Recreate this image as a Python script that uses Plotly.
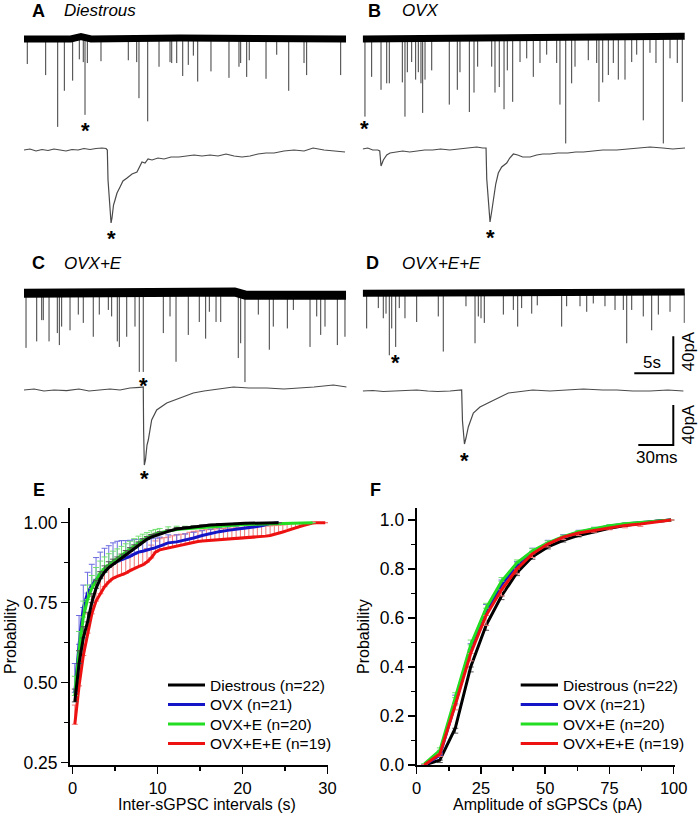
import plotly.graph_objects as go

W, H = 700, 816

# ======================= DATA =======================
# Overview traces (A-D): event times (s) and peak amplitudes (pA, downward)
A_spike_t = [0.42, 2.78, 4.32, 5.17, 6.24, 7.09, 7.60, 7.82, 8.12, 9.87, 13.37, 14.45, 14.74, 15.86, 17.31,
             18.72, 18.94, 19.58, 20.35, 21.06, 21.71, 22.27, 23.97, 26.28, 27.56, 27.78, 28.55, 28.88, 31.03,
             32.40, 33.94, 35.90, 36.24, 40.60]
A_spike_amp = [27, 39, 95, 56, 45, 22, 25, 82, 26, 24, 23, 25, 64, 89, 30, 25, 26, 26, 40, 28, 18, 46, 35,
               42, 30, 26, 41, 23, 43, 17, 56, 26, 39, 39]
A_star = 7

B_spike_t = [0.29, 1.15, 2.35, 3.08, 3.41, 5.08, 5.42, 5.72, 6.28, 6.79, 7.13, 7.47, 7.69, 7.99, 8.85, 11.10,
             12.13, 12.47, 13.67, 14.27, 14.74, 16.54, 16.96, 17.51, 18.12, 18.54, 19.23, 20.17, 21.03, 21.87,
             22.73, 23.59, 24.87, 25.29, 26.03, 26.79, 27.22, 28.92, 30.00, 30.29, 30.77, 31.49, 32.13, 32.77,
             33.63, 34.49, 35.13, 35.97, 36.83, 37.60, 38.54, 39.40, 40.33, 40.97]
B_spike_amp = [85, 42, 56, 49, 49, 48, 85, 37, 26, 45, 37, 49, 81, 45, 35, 72, 56, 37, 80, 59, 31, 31, 59,
               53, 77, 35, 69, 26, 22, 42, 27, 18, 27, 72, 114, 49, 31, 24, 27, 69, 48, 40, 27, 45, 45, 26,
               18, 89, 16, 27, 114, 22, 27, 69]
B_star = 0

C_spike_t = [0.26, 1.63, 2.27, 2.47, 3.21, 4.27, 4.53, 4.83, 5.90, 6.96, 7.60, 8.88, 9.65, 10.81, 11.24,
             11.96, 12.22, 13.17, 14.23, 14.78, 15.29, 17.86, 18.72, 19.49, 21.06, 22.47, 23.29, 23.76, 24.62,
             25.22, 27.47, 27.78, 28.33, 30.04, 31.45, 31.96, 33.76, 34.53, 36.67, 37.53, 38.04, 38.59, 40.17,
             41.15]
C_spike_amp = [59, 52, 29, 29, 52, 43, 56, 36, 40, 23, 32, 47, 23, 18, 25, 52, 58, 47, 36, 85, 85, 43, 25,
               74, 45, 31, 49, 20, 31, 31, 70, 54, 96, 23, 61, 36, 38, 18, 58, 25, 45, 36, 56, 47]
C_star = 20

D_spike_t = [0.51, 2.00, 2.64, 2.99, 3.41, 3.72, 4.23, 4.69, 5.42, 6.92, 9.69, 10.33, 13.24, 14.40, 14.82,
             15.17, 15.59, 18.03, 19.31, 19.87, 20.38, 21.67, 22.38, 25.51, 26.15, 27.86, 28.72, 29.56, 31.06,
             32.35, 33.41, 33.85, 34.49, 35.97, 37.05, 37.90, 39.40, 41.23]
D_spike_amp = [38, 16, 27, 22, 67, 38, 58, 16, 27, 31, 25, 63, 14, 54, 25, 27, 32, 23, 18, 36, 16, 22, 13,
               36, 14, 14, 20, 11, 14, 18, 18, 54, 18, 25, 40, 23, 20, 32]
D_star = 6

# baseline drift of the overview traces (s, pA)
A_base_t = [0, 6.0, 7.3, 8.6, 20, 33, 34, 41.3]
A_base_v = [0, 0, 2.5, 0, 1, 0, 1, 0]
B_base_t = [0, 10, 20, 30, 35, 41.3]
B_base_v = [-1, 0, 1, 1, 2.5, 2]
C_base_t = [0, 10, 20, 27.0, 28.4, 41.3]
C_base_v = [0, 1, 1.5, 1.5, -2, -2]
D_base_t = [0, 10, 25.3, 25.9, 41.3]
D_base_v = [0, 0, 0, 1.5, 1.5]

# Expanded single events (ms, pA)
A_evt_t = [0, 5.1, 10.3, 15.4, 20.6, 25.7, 30.9, 36.0, 41.1, 46.3, 51.4, 56.6, 61.7, 66.8, 70.3, 71.4, 72.0,
           73.7, 74.6, 75.4, 76.7, 78.0, 79.7, 82.3, 84.8, 88.3, 92.6, 96.8, 99.4, 101.1, 103.7, 106.3, 109.7,
           114.8, 120.0, 126.0, 132.8, 139.7, 145.7, 152.5, 159.4, 166.3, 173.1, 180.0, 186.8, 193.7, 200.5,
           207.4, 214.3, 222.8, 231.4, 240.0, 247.7, 257.1, 265.7, 275.1]
A_evt_i = [0, 1, -1, 0.5, -0.5, 1, 0, -1, 0.5, 0, 1.5, 0.5, 1.5, 2, 1.5, 0, -30, -65, -73, -68, -55, -50, -43,
           -37, -31, -28, -24, -22, -16, -12, -13, -9, -10, -8, -9, -7, -7, -6, -5, -6, -5, -6, -4, -6, -7, -6,
           -4, -3, -3, -1, 0, -1, 2, 0, -1, -2]
A_evt_peak = 18

B_evt_t = [0, 4.3, 8.6, 12.9, 14.6, 15.7, 17.7, 20.6, 23.4, 28.3, 34.3, 40.3, 46.3, 53.1, 60.0, 66.8, 74.6,
           81.4, 85.7, 91.7, 97.7, 102.8, 105.7, 106.3, 108.0, 109.1, 110.6, 111.9, 114.0, 116.2, 119.1, 123.4,
           126.0, 129.1, 132.8, 137.1, 143.4, 149.1, 154.3, 160.5, 167.1, 175.7, 182.5, 189.1, 197.1, 205.7,
           217.7, 227.1, 235.7, 246.2, 257.1, 265.7, 276.2]
B_evt_i = [0, 1, -1, -1, -2, -17, -11, -6, -4, -3, -2, -3, -2, -1, -1, 0, -1, 0, 0, 1, 2, 1, 1, -30, -62, -73,
           -62, -51, -35, -24, -18, -14, -9, -5, -6, -8, -8, -6, -5, -5, -4, -4, -3, -3, -2, -1, -1, 0, 1, 2,
           1, 0, 1]
B_evt_peak = 25

C_evt_t = [0, 8.6, 17.1, 25.7, 36.6, 47.1, 55.7, 65.1, 73.7, 82.3, 90.8, 99.4, 102.2, 102.5, 103.1, 104.1,
           105.4, 106.5, 109.4, 113.7, 122.3, 133.7, 145.1, 154.3, 165.1, 179.4, 192.8, 208.0, 222.8, 236.5,
           248.5, 265.1, 276.5]
C_evt_i = [0, 1, -1, 0, -0.7, 1, -1, 0, 1, 0, 2, 2.7, 3, -40, -75, -70, -55, -50, -30, -20, -13, -8, -3, -1,
           1, 3, 2, 2, 1, 2, 3, 5, 3]
C_evt_peak = 14

D_evt_t = [0, 8.6, 17.7, 25.7, 34.3, 46.3, 55.7, 64.3, 74.8, 83.4, 84.8, 85.5, 87.2, 88.5, 90.5, 94.8, 100.5,
           109.1, 117.7, 124.8, 132.0, 145.7, 160.5, 175.7, 189.1, 205.7, 217.7, 231.4, 246.2, 261.4, 274.8]
D_evt_i = [0, 0.5, -0.5, 0, 1, 1, 0, -0.5, 0, 1, 1, -30, -53, -47, -36, -22, -16, -11, -6, -2, -1, 1, 0, 1,
           2, 1, 1, 0, 0, 1, 0]
D_evt_peak = 12

SCALE_T_S = 5      # s
SCALE_T_MS = 30    # ms
SCALE_PA = 40      # pA

# Panel E: cumulative probability of inter-event intervals (s)
groups = ["Diestrous (n=22)", "OVX (n=21)", "OVX+E (n=20)", "OVX+E+E (n=19)"]

E_x_short = [0.25, 0.75, 1.25, 1.75, 2.25, 2.75, 3.25, 3.75, 4.25, 4.75, 5.25, 5.75, 6.25, 6.75, 7.25, 7.75,
             8.25, 8.75, 9.25, 9.75, 10.25, 11.25, 12.25, 13.25, 14.25, 15.25, 16.25, 17.25, 18.25, 19.25,
             20.25, 21.25, 22.25, 23.25, 24.25]
E_x_green = [0.25, 0.75, 1.25, 1.75, 2.25, 2.75, 3.25, 3.75, 4.25, 4.75, 5.25, 5.75, 6.25, 6.75, 7.25, 7.75,
             8.25, 8.75, 9.25, 9.75, 10.25, 11.25, 12.25, 13.25, 14.25, 15.25, 16.25, 17.25, 18.25, 19.25,
             20.25, 21.25, 22.25, 23.25, 24.25, 25.25, 26.25, 27.25, 28.25]
E_x_red = [0.25, 0.75, 1.25, 1.75, 2.25, 2.75, 3.25, 3.75, 4.25, 4.75, 5.25, 5.75, 6.25, 6.75, 7.25, 7.75,
           8.25, 8.75, 9.25, 9.75, 10.25, 10.75, 11.25, 11.75, 12.25, 12.75, 13.25, 13.75, 14.25, 14.75,
           15.25, 15.75, 16.25, 16.75, 17.25, 17.75, 18.25, 18.75, 19.25, 19.75, 20.25, 20.75, 21.25, 21.75,
           22.25, 22.75, 23.25, 23.75, 24.25, 24.75, 25.25, 25.75, 26.25, 26.75, 27.25, 27.75, 28.25, 28.75,
           29.25, 29.75]

E_black = [0.44, 0.56, 0.64, 0.69, 0.75, 0.795, 0.825, 0.845, 0.86, 0.87, 0.878, 0.888, 0.9, 0.91, 0.92, 0.93,
           0.94, 0.948, 0.955, 0.96, 0.965, 0.973, 0.98, 0.984, 0.987, 0.99, 0.993, 0.995, 0.996, 0.997, 0.998,
           0.999, 0.999, 1.0, 1.0]
E_black_err = [0.04, 0.04, 0.035, 0.03, 0.028, 0.025, 0.022, 0.02, 0.018, 0.016, 0.015, 0.014, 0.013, 0.012,
               0.011, 0.01, 0.01, 0.009, 0.008, 0.007, 0.007, 0.006, 0.005, 0.004, 0.003, 0.003, 0.002, 0.002,
               0.001, 0.001, 0.001, 0, 0, 0, 0]
E_blue = [0.47, 0.62, 0.735, 0.78, 0.805, 0.823, 0.838, 0.85, 0.862, 0.872, 0.879, 0.884, 0.889, 0.895, 0.902,
          0.908, 0.911, 0.914, 0.917, 0.922, 0.927, 0.937, 0.94, 0.945, 0.952, 0.96, 0.967, 0.972, 0.976, 0.979,
          0.982, 0.986, 0.99, 0.997, 1.0]
E_blue_err = [0.09, 0.09, 0.07, 0.065, 0.065, 0.068, 0.07, 0.07, 0.066, 0.065, 0.063, 0.06, 0.055, 0.05,
              0.045, 0.04, 0.037, 0.035, 0.033, 0.03, 0.028, 0.025, 0.022, 0.02, 0.018, 0.015, 0.013, 0.012,
              0.011, 0.01, 0.01, 0.008, 0.005, 0.002, 0]
E_green = [0.46, 0.6, 0.705, 0.76, 0.795, 0.82, 0.842, 0.857, 0.869, 0.879, 0.888, 0.898, 0.908, 0.918, 0.928,
           0.938, 0.946, 0.953, 0.96, 0.965, 0.969, 0.975, 0.979, 0.981, 0.983, 0.985, 0.988, 0.99, 0.992,
           0.993, 0.994, 0.995, 0.996, 0.997, 0.998, 0.999, 0.999, 1.0, 1.0]
E_green_err = [0.06, 0.06, 0.05, 0.045, 0.04, 0.04, 0.038, 0.036, 0.034, 0.032, 0.03, 0.028, 0.026, 0.024,
               0.022, 0.02, 0.018, 0.016, 0.015, 0.014, 0.013, 0.012, 0.01, 0.008, 0.007, 0.006, 0.005, 0.004,
               0.003, 0.003, 0.002, 0.002, 0.001, 0.001, 0.001, 0, 0, 0, 0]
E_red = [0.37, 0.49, 0.585, 0.655, 0.715, 0.755, 0.778, 0.80, 0.815, 0.826, 0.832, 0.836, 0.842, 0.85, 0.857,
         0.863, 0.868, 0.877, 0.89, 0.908, 0.915, 0.918, 0.92, 0.925, 0.928, 0.93, 0.932, 0.937, 0.94, 0.941,
         0.943, 0.944, 0.945, 0.946, 0.946, 0.947, 0.948, 0.948, 0.949, 0.95, 0.951, 0.952, 0.953, 0.955, 0.957,
         0.958, 0.96, 0.963, 0.966, 0.971, 0.975, 0.98, 0.984, 0.988, 0.992, 0.996, 0.999, 1.0, 1.0, 1.0]
E_red_err = [0.06, 0.065, 0.065, 0.06, 0.055, 0.052, 0.05, 0.05, 0.05, 0.05, 0.05, 0.05, 0.048, 0.047, 0.046,
             0.045, 0.044, 0.042, 0.04, 0.035, 0.035, 0.035, 0.035, 0.034, 0.034, 0.034, 0.033, 0.033, 0.033,
             0.033, 0.034, 0.034, 0.034, 0.035, 0.035, 0.035, 0.035, 0.035, 0.035, 0.035, 0.035, 0.035, 0.035,
             0.034, 0.033, 0.032, 0.03, 0.028, 0.026, 0.022, 0.02, 0.017, 0.014, 0.011, 0.008, 0.004, 0.001, 0,
             0, 0]

# Panel F: cumulative probability of amplitudes (pA)
F_x = [3, 9, 15, 21, 27, 33, 39, 45, 51, 57, 63, 69, 75, 81, 87, 93, 99]
F_black = [0, 0.02, 0.15, 0.40, 0.57, 0.69, 0.785, 0.85, 0.89, 0.917, 0.937, 0.953, 0.966, 0.977, 0.987, 0.995, 1.0]
F_black_err = [0, 0.01, 0.02, 0.02, 0.02, 0.015, 0.012, 0.01, 0.008, 0.007, 0.006, 0.005, 0.004, 0.003, 0.002, 0.001, 0]
F_blue = [0, 0.04, 0.25, 0.47, 0.625, 0.735, 0.815, 0.87, 0.905, 0.93, 0.95, 0.964, 0.975, 0.984, 0.99, 0.996, 1.0]
F_blue_err = [0, 0.01, 0.035, 0.025, 0.03, 0.02, 0.015, 0.015, 0.012, 0.01, 0.008, 0.006, 0.005, 0.004, 0.003, 0.002, 0]
F_green = [0.005, 0.06, 0.275, 0.49, 0.64, 0.75, 0.825, 0.873, 0.907, 0.932, 0.952, 0.966, 0.977, 0.985, 0.99, 0.996, 1.0]
F_green_err = [0, 0.01, 0.02, 0.02, 0.02, 0.015, 0.012, 0.01, 0.008, 0.006, 0.005, 0.004, 0.003, 0.003, 0.002, 0.001, 0]
F_red = [0, 0.045, 0.245, 0.455, 0.61, 0.715, 0.80, 0.862, 0.902, 0.93, 0.947, 0.958, 0.968, 0.978, 0.984, 0.993, 1.0]
F_red_err = [0, 0.01, 0.02, 0.03, 0.04, 0.025, 0.02, 0.015, 0.012, 0.01, 0.01, 0.008, 0.008, 0.01, 0.01, 0.003, 0]

# ======================= LAYOUT HELPERS =======================
FONT = "Liberation Sans, Arial, sans-serif"
TOP_XSCALE, TOP_YSCALE = 7.8, 0.925     # px per s, px per pA
EVT_XSCALE, EVT_YSCALE = 1.167, 1.0     # px per ms, px per pA
TOP_XMAX, EVT_XMAX = 41.3, 276.5

fig = go.Figure()
layout = {}
annotations = []
shapes = []


def ax_name(n, kind):
    return kind if n == 1 else f"{kind}{n}"


def add_trace_axes(n, x0, base, top, bottom, xs, ys, xmax):
    layout[ax_name(n, "xaxis")] = dict(domain=[x0 / W, (x0 + xmax * xs) / W], range=[0, xmax],
                                       visible=False, anchor=ax_name(n, "y"), automargin=False)
    layout[ax_name(n, "yaxis")] = dict(domain=[1 - bottom / H, 1 - top / H],
                                       range=[-(bottom - base) / ys, (base - top) / ys],
                                       visible=False, anchor=ax_name(n, "x"), automargin=False)


def px(xp, yp):
    return xp / W, 1 - yp / H


def text(xp, yp, s, size=16, xanchor="center", bold=False, italic=False, angle=0):
    x, y = px(xp, yp)
    if bold:
        s = f"<b>{s}</b>"
    if italic:
        s = f"<i>{s}</i>"
    annotations.append(dict(x=x, y=y, xref="paper", yref="paper", text=s, showarrow=False,
                            xanchor=xanchor, yanchor="middle", textangle=angle, borderpad=0,
                            font=dict(family=FONT, size=size, color="black")))


def star(n, xv, yv, below_px):
    annotations.append(dict(x=xv, y=yv, xref=ax_name(n, "x"), yref=ax_name(n, "y"), text="<b>*</b>",
                            showarrow=False, xanchor="center", yanchor="top", yshift=-(below_px - 8),
                            borderpad=0, font=dict(family=FONT, size=22, color="black")))


# ---------------- overview traces ----------------
panels = [
    # n, x0, base, top, bottom, spike_t, spike_amp, base_t, base_v, width, star idx, star offset
    (1, 24.0, 39.0, 5, 150, A_spike_t, A_spike_amp, A_base_t, A_base_v, 7, A_star, 10),
    (2, 362.7, 38.0, 5, 150, B_spike_t, B_spike_amp, B_base_t, B_base_v, 7, B_star, 6),
    (3, 24.0, 293.3, 255, 395, C_spike_t, C_spike_amp, C_base_t, C_base_v, 9, C_star, 8),
    (4, 362.7, 293.3, 255, 395, D_spike_t, D_spike_amp, D_base_t, D_base_v, 7, D_star, 10),
]
for n, x0, base, top, bottom, st, sa, bt, bv, bw, si, so in panels:
    add_trace_axes(n, x0, base, top, bottom, TOP_XSCALE, TOP_YSCALE, TOP_XMAX)
    xs, ys = [], []
    for t, a in zip(st, sa):
        xs += [t, t, None]
        ys += [0, -a, None]
    fig.add_trace(go.Scatter(x=xs, y=ys, mode="lines", line=dict(color="#3c3c3c", width=1),
                             xaxis=ax_name(n, "x"), yaxis=ax_name(n, "y"), showlegend=False,
                             hoverinfo="skip"))
    fig.add_trace(go.Scatter(x=bt, y=bv, mode="lines", line=dict(color="black", width=bw),
                             xaxis=ax_name(n, "x"), yaxis=ax_name(n, "y"), showlegend=False,
                             hoverinfo="skip"))
    star(n, st[si], -sa[si], so)

# ---------------- single-event traces ----------------
events = [
    (5, 24.0, 150.0, 120, 240, A_evt_t, A_evt_i, A_evt_peak, 10),
    (6, 362.7, 149.0, 120, 240, B_evt_t, B_evt_i, B_evt_peak, 10),
    (7, 24.0, 390.0, 360, 480, C_evt_t, C_evt_i, C_evt_peak, 8),
    (8, 362.7, 391.0, 360, 480, D_evt_t, D_evt_i, D_evt_peak, 11),
]
for n, x0, base, top, bottom, et, ei, pk, so in events:
    add_trace_axes(n, x0, base, top, bottom, EVT_XSCALE, EVT_YSCALE, EVT_XMAX)
    fig.add_trace(go.Scatter(x=et, y=ei, mode="lines", line=dict(color="#4a4a4a", width=1.2),
                             xaxis=ax_name(n, "x"), yaxis=ax_name(n, "y"), showlegend=False,
                             hoverinfo="skip"))
    star(n, et[pk], ei[pk], so)

# ---------------- scale bars ----------------
c_t = (673.3 - 362.7) / TOP_XSCALE
c_y = -(373.3 - 293.3) / TOP_YSCALE
fig.add_trace(go.Scatter(x=[c_t - SCALE_T_S, c_t, c_t], y=[c_y, c_y, c_y + SCALE_PA], mode="lines",
                         line=dict(color="black", width=2), xaxis="x4", yaxis="y4", showlegend=False,
                         hoverinfo="skip"))
c_t2 = (673.3 - 362.7) / EVT_XSCALE
c_y2 = -(445.0 - 391.0) / EVT_YSCALE
fig.add_trace(go.Scatter(x=[c_t2 - SCALE_T_MS, c_t2, c_t2], y=[c_y2, c_y2, c_y2 + SCALE_PA], mode="lines",
                         line=dict(color="black", width=2), xaxis="x8", yaxis="y8", showlegend=False,
                         hoverinfo="skip"))
text(651.7, 362, f"{SCALE_T_S}s", size=17)
text(687.5, 352, f"{SCALE_PA}pA", size=17, angle=-90)
text(656.7, 457, f"{SCALE_T_MS}ms", size=17)
text(687.5, 425, f"{SCALE_PA}pA", size=17, angle=-90)

# ---------------- panel labels ----------------
text(38, 11, "A", size=18, bold=True)
text(63, 11, "Diestrous", size=17, xanchor="left", italic=True)
text(374, 11, "B", size=18, bold=True)
text(401, 11, "OVX", size=17, xanchor="left", italic=True)
text(38, 263, "C", size=18, bold=True)
text(63, 263, "OVX+E", size=17, xanchor="left", italic=True)
text(373, 263, "D", size=18, bold=True)
text(401, 263, "OVX+E+E", size=17, xanchor="left", italic=True)
text(39, 490, "E", size=18, bold=True)
text(375, 490, "F", size=18, bold=True)

# ---------------- E and F ----------------
COLORS = ["black", "#1515c8", "#22dd22", "#ee1111"]
ERRCOL = ["#555555", "#6a6ae0", "#70e070", "#f07878"]


def cum_trace(x, y, err, ci, axn, down=False):
    zeros = [0] * len(err)
    return go.Scatter(x=x, y=y, mode="lines", name=groups[ci], showlegend=False,
                      line=dict(color=COLORS[ci], width=3),
                      error_y=dict(type="data", symmetric=False,
                                   array=zeros if down else err, arrayminus=err if down else zeros,
                                   color=ERRCOL[ci], thickness=1, width=3),
                      xaxis=f"x{axn}", yaxis=f"y{axn}", hoverinfo="skip")


fig.add_trace(cum_trace(E_x_red, E_red, E_red_err, 3, 9))
fig.add_trace(cum_trace(E_x_short, E_blue, E_blue_err, 1, 9))
fig.add_trace(cum_trace(E_x_green, E_green, E_green_err, 2, 9))
fig.add_trace(cum_trace(E_x_short, E_black, E_black_err, 0, 9))

fig.add_trace(cum_trace(F_x, F_black, F_black_err, 0, 10, down=True))
fig.add_trace(cum_trace(F_x, F_blue, F_blue_err, 1, 10))
fig.add_trace(cum_trace(F_x, F_green, F_green_err, 2, 10))
fig.add_trace(cum_trace(F_x, F_red, F_red_err, 3, 10, down=True))

axis_common = dict(showline=True, linecolor="black", linewidth=2, ticks="outside", ticklen=7,
                   tickwidth=1.5, tickcolor="black", showgrid=False, zeroline=False, automargin=False)
minor_common = dict(ticks="outside", ticklen=4, tickwidth=1.5, tickcolor="black", showgrid=False)
xfont = dict(family=FONT, size=16.5, color="black")
yfont = dict(family=FONT, size=17.5, color="black")

layout["xaxis9"] = dict(domain=[70 / W, 328 / W], range=[-0.318, 30.07], anchor="y9", tick0=0, dtick=10,
                        tickfont=xfont, minor=dict(tick0=0, dtick=5, **minor_common), **axis_common)
layout["yaxis9"] = dict(domain=[1 - 765 / H, 1 - 508 / H], range=[0.2428, 1.0459], anchor="x9", tick0=0.25,
                        dtick=0.25, tickformat=".2f", tickfont=yfont,
                        minor=dict(tick0=0.25, dtick=0.125, **minor_common), **axis_common)
layout["xaxis10"] = dict(domain=[416.7 / W, 675 / W], range=[0, 100.5], anchor="y10", tick0=0, dtick=25,
                         tickfont=xfont, minor=dict(tick0=0, dtick=12.5, **minor_common), **axis_common)
layout["yaxis10"] = dict(domain=[1 - 765 / H, 1 - 508 / H], range=[0, 1.049], anchor="x10", tick0=0,
                         dtick=0.2, tickformat=".1f", tickfont=yfont,
                         minor=dict(tick0=0, dtick=0.1, **minor_common), **axis_common)

text(10, 637, "Probability", size=16, angle=-90)
text(363, 637, "Probability", size=16, angle=-90)
text(207, 804, "Inter-sGPSC intervals (s)", size=16)
text(547, 804, "Amplitude of sGPSCs (pA)", size=16)

# ---------------- hand-placed legends (as in the reference) ----------------
legend_rows = [685, 704.5, 724, 743.5]
for (lx0, lx1, tx) in [(168, 205, 209), (520.7, 558, 562)]:
    for gi, ry in enumerate(legend_rows):
        x0p, y0p = px(lx0, ry)
        x1p, _ = px(lx1, ry)
        shapes.append(dict(type="line", xref="paper", yref="paper", x0=x0p, x1=x1p, y0=y0p, y1=y0p,
                           line=dict(color=COLORS[gi], width=3)))
        text(tx, ry, groups[gi], size=15.5, xanchor="left")

fig.update_layout(template="none", width=W, height=H, margin=dict(l=0, r=0, t=0, b=0, pad=0),
                  paper_bgcolor="white", plot_bgcolor="rgba(0,0,0,0)", annotations=annotations,
                  shapes=shapes, showlegend=False, font=dict(family=FONT, color="black"), **layout)

# place the 700x816 figure flush with the page corner (no default body margin), static (no modebar)
fig.write_html("out.html",
               config={"staticPlot": True, "displayModeBar": False},
               post_script="document.body.style.margin='0px';document.body.style.padding='0px';"
                           "document.body.style.overflow='hidden';")
